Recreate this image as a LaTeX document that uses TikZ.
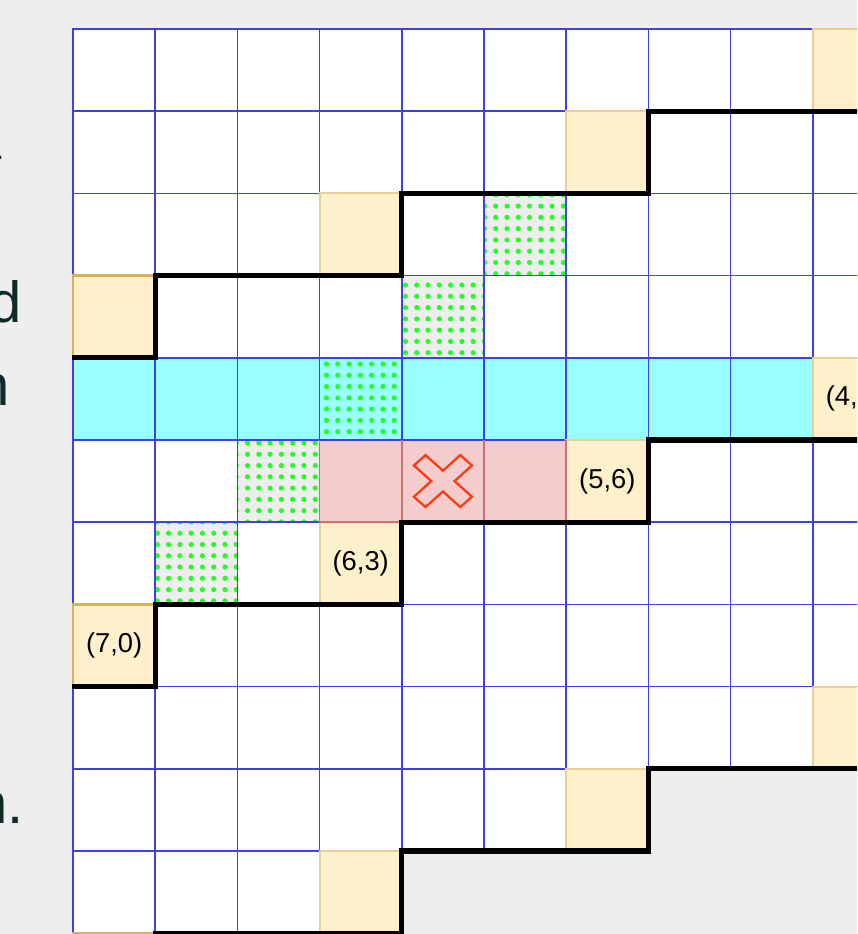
\documentclass[tikz,border=0pt]{standalone}
\usepackage{fontspec}
\setmainfont{Liberation Sans}
\definecolor{bg}{HTML}{EEEEEE}
\definecolor{gridblue}{RGB}{64,64,228}
\definecolor{beige}{HTML}{FFF0CC}
\definecolor{beigeedge}{HTML}{EACF92}
\definecolor{goldedge}{HTML}{D6B35A}
\definecolor{cyanfill}{HTML}{99FFFF}
\definecolor{pinkfill}{HTML}{F4CCCC}
\definecolor{pinkedge}{HTML}{CC7070}
\definecolor{dotgreen}{HTML}{22FF22}
\definecolor{xred}{HTML}{FF3A10}
\definecolor{inktext}{HTML}{102A2A}
\tikzset{
  gridline/.style={draw=gridblue, line width=1.1},
  beigeline/.style={draw=beigeedge, line width=1.4},
  goldline/.style={draw=goldedge, line width=2.2},
  pinkline/.style={draw=pinkedge, line width=1.1},
  stair/.style={draw=black, line width=4, line join=miter},
  lbl/.style={inner sep=0pt, font=\fontsize{20.5}{24}\selectfont, text=black},
  sidetext/.style={inner sep=0pt, font=\fontsize{43.5}{50}\selectfont, text=inktext, anchor=base east},
  crossmark/.style={draw=xred, line width=1.7, line join=miter}
}
\begin{document}
\begin{tikzpicture}[x=0.75pt,y=-0.75pt]
\useasboundingbox (0,0) rectangle (857,934);
\clip (0,0) rectangle (857,934);
\fill[bg] (0,0) rectangle (857,934);

% white cells
\foreach \r in {0,...,8}{\foreach \c in {0,...,9}{
  \fill[white] ({73+\c*82.2},{29+\r*82.2}) rectangle ++(82.2,82.2);}}
\foreach \c in {0,...,6}{\fill[white] ({73+\c*82.2},{29+9*82.2}) rectangle ++(82.2,82.2);}
\foreach \c in {0,...,3}{\fill[white] ({73+\c*82.2},{29+10*82.2}) rectangle ++(82.2,82.2);}

% cyan row and pink cells
\fill[cyanfill] ({73},{29+4*82.2}) rectangle ({73+9*82.2},{29+5*82.2});
\fill[pinkfill] ({73+3*82.2},{29+5*82.2}) rectangle ({73+6*82.2},{29+6*82.2});

% beige cells
\foreach \r/\c in {0/9,1/6,2/3,3/0,4/9,5/6,6/3,7/0,8/9,9/6,10/3,11/0}{
  \fill[beige] ({73+\c*82.2},{29+\r*82.2}) rectangle ++(82.2,82.2);}

% transparent dotted cells
\foreach \r/\c in {2/5,3/4,5/2,6/1}{
  \fill[bg] ({73+\c*82.2},{29+\r*82.2}) rectangle ++(82.2,82.2);}
\foreach \r/\c in {2/5,3/4,4/3,5/2,6/1}{
  \begin{scope}
  \clip ({73+\c*82.2},{29+\r*82.2}) rectangle ++(82.2,82.2);
  \pgfmathsetmacro\kx{floor((73+\c*82.2-326.5)/11.28)}
  \pgfmathsetmacro\ky{floor((29+\r*82.2-364)/11.28)}
  \foreach \i in {0,...,8}{\foreach \j in {0,...,8}{
    \fill[dotgreen] ({326.5+(\kx+\i)*11.28},{364+(\ky+\j)*11.28}) circle [radius=2.6];}}
  \end{scope}
}

% grid lines
\foreach \r in {0,...,8}{\foreach \c in {0,...,9}{
  \draw[gridline] ({73+\c*82.2},{29+\r*82.2}) rectangle ++(82.2,82.2);}}
\foreach \c in {0,...,6}{\draw[gridline] ({73+\c*82.2},{29+9*82.2}) rectangle ++(82.2,82.2);}
\foreach \c in {0,...,3}{\draw[gridline] ({73+\c*82.2},{29+10*82.2}) rectangle ++(82.2,82.2);}

% beige borders
\foreach \r/\c in {0/9,1/6,2/3,4/9,5/6,6/3,8/9,9/6,10/3}{
  \draw[beigeline] ({73+\c*82.2},{29+\r*82.2}) rectangle ++(82.2,82.2);}
\foreach \r in {3,7,11}{
  \draw[goldline] ({73},{29+\r*82.2}) rectangle ++(82.2,82.2);}

% pink borders
\foreach \c in {3,4,5}{
  \draw[pinkline] ({73+\c*82.2},{29+5*82.2}) -- ({73+\c*82.2},{29+6*82.2})
     -- ({73+(\c+1)*82.2},{29+6*82.2}) -- ({73+(\c+1)*82.2},{29+5*82.2});}

% staircase boundaries
\foreach \k in {0,1,2}{
  \draw[stair] (900,{29+(1+4*\k)*82.2}) -- ({73+7*82.2},{29+(1+4*\k)*82.2})
    -- ({73+7*82.2},{29+(2+4*\k)*82.2}) -- ({73+4*82.2},{29+(2+4*\k)*82.2})
    -- ({73+4*82.2},{29+(3+4*\k)*82.2}) -- ({73+1*82.2},{29+(3+4*\k)*82.2})
    -- ({73+1*82.2},{29+(4+4*\k)*82.2}) -- ({72},{29+(4+4*\k)*82.2});}

% labels
\node[lbl] (l56) at ({73+6.5*82.2},{29+5.5*82.2}) {(5,6)};
\node[lbl] (l63) at ({73+3.5*82.2},{29+6.5*82.2}) {(6,3)};
\node[lbl] (l70) at ({73+0.5*82.2},{29+7.5*82.2}) {(7,0)};
\node[lbl] (l49) at ({73+9.5*82.2},{29+4.5*82.2}) {(4,9)};

% cross mark
\begin{scope}[shift={({73+4.5*82.2},{29+5.5*82.2})}]
\draw[crossmark] (-29,-15.6) -- (-17.4,-26) -- (0,-10.4) -- (17.4,-26) -- (29,-15.6)
  -- (11.6,0) -- (29,15.6) -- (17.4,26) -- (0,10.4) -- (-17.4,26) -- (-29,15.6)
  -- (-11.6,0) -- cycle;
\end{scope}

% clipped side text
\node[sidetext] (sa) at (2.5,160) {a};
\node[sidetext] (sd) at (22,322) {d};
\node[sidetext] (sn) at (10.5,405.5) {n};
\node[sidetext] (sn2) at (24,823) {n.};
\end{tikzpicture}
\end{document}
